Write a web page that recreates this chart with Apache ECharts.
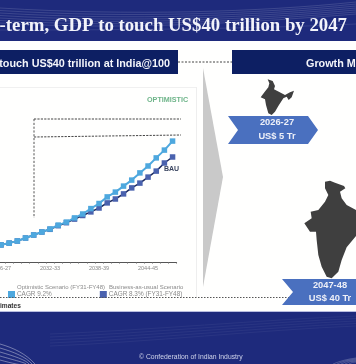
<!DOCTYPE html>
<html>
<head>
<meta charset="utf-8">
<style>
  html, body { margin: 0; padding: 0; background: #fff; }
  #main { width: 356px; height: 364px; }
</style>
</head>
<body>
<div id="main"></div>
<script src="https://cdn.jsdelivr.net/npm/echarts@6/dist/echarts.min.js"></script>
<script>
// values in US$ trillion
const categories = ["2025-26", "2026-27", "2027-28", "2028-29", "2029-30", "2030-31", "2031-32", "2032-33",
  "2033-34", "2034-35", "2035-36", "2036-37", "2037-38", "2038-39", "2039-40", "2040-41", "2041-42",
  "2042-43", "2043-44", "2044-45", "2045-46", "2046-47", "2047-48"];
const optimistic = [5.2, 5.7, 6.3, 7.0, 8.0, 9.0, 10.0, 11.0, 12.3, 13.3, 14.7, 16.0, 17.8, 19.5, 21.7, 23.3,
  25.3, 27.3, 29.7, 32.0, 34.7, 37.3, 40.3];
const bau = [5.2, 5.7, 6.3, 7.0, 8.0, 9.0, 10.0, 10.9, 12.1, 13.1, 14.3, 15.5, 16.7, 18.0, 19.7, 21.0,
  22.7, 24.7, 26.3, 28.3, 30.3, 33.0, 35.0];
const tickLabels = ["2026-27", "2032-33", "2038-39", "2044-45"];
const optimisticName = "CAGR 9.2%";
const bauName = "CAGR 8.3% (FY31-FY48)";

const sans = '"Liberation Sans", Arial, sans-serif';
const serif = '"Liberation Serif", "Times New Roman", serif';
const navy = "#0d1f63";
const band = "#1e2a7c";

function traced(points, ox, oy) {
  return points.map((p) => [ox + p[0] / 3, oy + p[1] / 3]);
}
const smallIndia = traced([[233,238],[248,243],[255,258],[252,268],[268,276],[285,285],[300,277],[312,272],
  [305,292],[296,300],[290,290],[280,295],[265,318],[255,335],[245,345],[235,340],[228,315],[225,298],
  [212,292],[222,278],[235,262],[238,250]], 190, 0);
const bigIndia = traced([[405,65],[420,62],[435,68],[462,78],[466,85],[450,95],[455,115],[470,135],[498,150],
  [498,228],[470,262],[455,300],[445,335],[425,355],[410,350],[395,320],[385,285],[380,240],[378,215],
  [360,215],[343,190],[365,175],[362,155],[385,150],[405,125],[415,105],[405,85]], 190, 160);

function rect(x, y, w, h, fill, z) {
  return { type: "rect", z: z || 1, silent: true, shape: { x, y, width: w, height: h }, style: { fill } };
}
function label(text, x, y, font, fill, align) {
  return { type: "text", z: 20, silent: true,
    style: { text, x, y, font, fill, textAlign: align || "left", textVerticalAlign: "middle" } };
}
function poly(points, fill, z) {
  return { type: "polygon", z: z || 5, silent: true, shape: { points }, style: { fill } };
}
function dotted(x1, y1, x2, y2, color, dash, z) {
  return { type: "line", z: z || 5, silent: true, shape: { x1, y1, x2, y2 },
    style: { stroke: color, lineWidth: 1, lineDash: dash } };
}
function wave(x1, y1, cx1, cy1, cx2, cy2, x2, y2, alpha) {
  return { type: "bezierCurve", z: 3, silent: true,
    shape: { x1, y1, cpx1: cx1, cpy1: cy1, cpx2: cx2, cpy2: cy2, x2, y2 },
    style: { stroke: "rgba(255,255,255," + alpha + ")", lineWidth: 0.7, fill: "none" } };
}

const elements = [
  // top band and footer
  rect(0, 0, 356, 41, band),
  rect(0, 312, 356, 52, band),
  rect(0, 311, 356, 1, "#b9bde0", 2),
  // panels
  rect(0, 50, 178, 24, navy),
  rect(232, 50, 124, 24, navy),
  dotted(178, 62, 232, 62, "#444", [2, 1.5]),
  rect(0, 87, 196, 1, "#f0f0f0"),
  rect(196, 87, 1, 210, "#eeeeee"),
  // gray arrow
  poly([[203, 68], [223, 177], [203, 287]], "#c9c9c9"),
  // dotted guide lines in the chart
  dotted(34, 119, 181, 119, "#444", [2.2, 1.2]),
  dotted(34, 137, 181, 135, "#444", [2.2, 1.2]),
  dotted(34, 119, 34, 218, "#555", [2.2, 1.6]),
  dotted(0, 297.5, 290, 297.5, "#555", [1.5, 1.5]),
  // milestones
  poly(smallIndia, "#3f3f3f"),
  poly(bigIndia, "#3f3f3f"),
  poly([[228, 116], [308, 116], [318, 130], [308, 144], [228, 144], [238, 130]], "#4a70bf"),
  poly([[282, 279], [356, 279], [356, 305], [282, 305], [293, 292]], "#4a70bf"),
  // texts
  label("-term, GDP to touch US$40 trillion by 2047", 347, 26.5, "bold 18.8px " + serif, "#f2f3fa", "right"),
  label("touch US$40 trillion at India@100", 170, 64.5, "bold 10.8px " + sans, "#f4f5fa", "right"),
  label("Growth M", 306, 64.5, "bold 10.8px " + sans, "#f4f5fa"),
  label("OPTIMISTIC", 147, 100.5, "bold 7.2px " + sans, "#6fb58a"),
  label("BAU", 164, 169.5, "bold 7px " + sans, "#3a4560"),
  label("2026-27", 277, 122, "bold 9.3px " + sans, "#eef0f8", "center"),
  label("US$ 5 Tr", 277, 136, "bold 9.3px " + sans, "#eef0f8", "center"),
  label("2047-48", 330, 285, "bold 9.3px " + sans, "#eef0f8", "center"),
  label("US$ 40 Tr", 330, 298, "bold 9.3px " + sans, "#eef0f8", "center"),
  label("Optimistic Scenario (FY31-FY48)", 17, 287.5, "6px " + sans, "#8a8a8a"),
  label("Business-as-usual Scenario", 109, 287.5, "6px " + sans, "#8a8a8a"),
  label("imates", 0, 306, "bold 6.6px " + sans, "#333"),
  label("\u00a9 Confederation of Indian Industry", 139, 357, "6.8px " + sans, "#cfd3ea"),
];

// faint sweeping lines in the two bands
for (let i = 0; i < 7; i++) {
  elements.push(wave(0, 8 + i * 2.5, 130, 16 + i * 2.5, 260, 12 + i * 1.6, 356, 2 + i * 2, 0.2));
}
elements.push(wave(0, 30, 120, 30, 250, 29, 356, 24, 0.15));
for (let i = 0; i < 5; i++) {
  elements.push(wave(50, 346 - i * 3, 150, 342 - i * 3, 260, 330 - i * 2.5, 356, 326 - i * 2.5, 0.08));
  elements.push(wave(0, 344 + i * 4, 14, 348 + i * 4, 26, 354 + i * 3, 35 - i * 3, 364, 0.55));
  elements.push(wave(333 + i * 4, 364, 340 + i * 4, 361, 348, 359 + i, 356, 358 + i, 0.3));
}

const chart = echarts.init(document.getElementById("main"), null, { renderer: "canvas" });
chart.setOption({
  animation: false,
  backgroundColor: "#fffffe",
  textStyle: { fontFamily: sans },
  graphic: { elements },
  legend: {
    left: 8,
    top: 291,
    itemWidth: 7,
    itemHeight: 7,
    itemGap: 48,
    padding: 0,
    icon: "rect",
    data: [
      { name: optimisticName, itemStyle: { color: "#4ea8de" } },
      { name: bauName, itemStyle: { color: "#4a62ae" } },
    ],
    textStyle: { color: "#8a8a8a", fontSize: 6.4, padding: [0, 0, 0, -3] },
  },
  grid: { left: -11.25, width: 187.9, top: 112, height: 150, containLabel: false, outerBoundsMode: "none" },
  xAxis: {
    type: "category",
    data: categories,
    axisLine: { lineStyle: { color: "#555", width: 1 } },
    axisTick: { show: true, length: 1.5, interval: 0, lineStyle: { color: "#666" } },
    axisLabel: {
      color: "#888",
      fontSize: 5.5,
      margin: 3,
      hideOverlap: false,
      interval: (i, name) => tickLabels.includes(name),
    },
  },
  yAxis: { type: "value", min: 0, max: 50, show: false, splitLine: { show: false } },
  series: [
    {
      name: bauName,
      type: "line",
      data: bau,
      z: 2,
      symbol: "rect",
      symbolSize: 5.5,
      showAllSymbol: true,
      clip: false,
      lineStyle: { color: "#1c2a5e", width: 1.5 },
      itemStyle: { color: "#4a62ae" },
    },
    {
      name: optimisticName,
      type: "line",
      data: optimistic,
      z: 3,
      symbol: "rect",
      symbolSize: 5.5,
      showAllSymbol: true,
      clip: false,
      lineStyle: { color: "#4ea8de", width: 2 },
      itemStyle: { color: "#4ea8de" },
    },
  ],
});
</script>
</body>
</html>
